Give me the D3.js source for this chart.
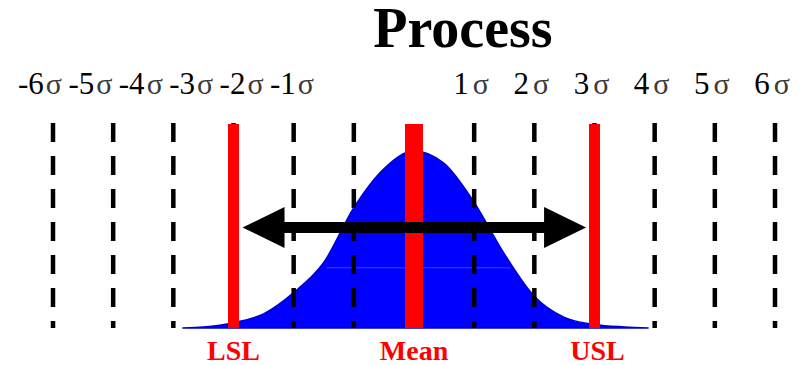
<!DOCTYPE html>
<html>
<head>
<meta charset="utf-8">
<script src="https://cdn.jsdelivr.net/npm/d3@7"></script>
<style>
  html, body { margin: 0; padding: 0; background: #fff; }
  svg { display: block; }
  text { font-family: "Liberation Serif", "Times New Roman", serif; }
</style>
</head>
<body>
<div id="chart"></div>
<script>
// Sigma positions and their labels
const sigmaTicks = [-6, -5, -4, -3, -2, -1, 1, 2, 3, 4, 5, 6];
const tickNumbers = ["-6", "-5", "-4", "-3", "-2", "-1", "1", "2", "3", "4", "5", "6"];

// Spec limits and mean
const limitSigma = [-3, 0, 3];
const limitNames = ["LSL", "Mean", "USL"];

// Process curve (height as % of the peak)
const curveSigma   = [-3.85, -3.5, -3, -2.5, -2, -1.5, -1, -0.5, 0, 0.5, 1, 1.5, 2, 2.5, 3, 3.5, 3.9];
const curveDensity = [0, 0.6, 3, 8, 20, 37, 68, 90, 100, 93, 71, 42, 18, 6, 2, 0.6, 0];

// Spread arrow, in sigma
const arrowSpan = [-2.85, 2.86];

function render() {
    const width = 800, height = 365;
    const top = 123, base = 328;

    const svg = d3.select("#chart")
        .append("svg")
        .attr("width", width)
        .attr("height", height);

    svg.append("rect")
        .attr("width", width)
        .attr("height", height)
        .attr("fill", "#fff");

    // Scales
    const x = d3.scaleLinear().domain([-6, 6]).range([53, 775]);
    const y = d3.scaleLinear().domain([0, 100]).range([base, 151]);
    // left labels are squeezed together in the original
    const xLeftLabel = d3.scaleLinear().domain([-6, -1]).range([40, 292]);

    // Title
    svg.append("text")
        .attr("x", 463)
        .attr("y", 47)
        .attr("text-anchor", "middle")
        .style("font-size", "56px")
        .style("font-weight", "bold")
        .text("Process");

    // Sigma labels
    const labels = svg.append("g").selectAll("text")
        .data(sigmaTicks)
        .join("text")
        .attr("x", (d, i) => d < 0 ? xLeftLabel(d) : x(d) - 3)
        .attr("y", 94)
        .attr("text-anchor", "middle")
        .style("font-size", "31px");
    labels.append("tspan")
        .attr("fill", "#000")
        .text((d, i) => tickNumbers[i]);
    labels.append("tspan")
        .attr("dx", d => d < 0 ? 2 : 4)
        .attr("fill", "#3a3a3a")
        .style("font-size", "30px")
        .text("σ");

    // Process curve
    const area = d3.area()
        .x(d => x(d[0]))
        .y0(base)
        .y1(d => y(d[1]))
        .curve(d3.curveMonotoneX);
    const pts = curveSigma.map((s, i) => [s, curveDensity[i]]);
    svg.append("path")
        .datum(pts)
        .attr("d", area)
        .attr("fill", "#0000ff")
        .attr("stroke", "#0000cc")
        .attr("stroke-width", 1.5);

    // faint scan line inside the curve
    svg.append("line")
        .attr("x1", x(-1.45)).attr("x2", x(1.6))
        .attr("y1", y(34)).attr("y2", y(34))
        .attr("stroke", "#5577ff")
        .attr("stroke-opacity", 0.6)
        .attr("stroke-width", 1);

    // Dashed sigma lines
    svg.append("g").selectAll("line")
        .data(sigmaTicks)
        .join("line")
        .attr("x1", d => x(d)).attr("x2", d => x(d))
        .attr("y1", top).attr("y2", base)
        .attr("stroke", "#000")
        .attr("stroke-width", 4.5)
        .attr("stroke-dasharray", "19,14");

    // Red limit lines
    svg.append("g").selectAll("line")
        .data(limitSigma)
        .join("line")
        .attr("x1", d => x(d)).attr("x2", d => x(d))
        .attr("y1", top + 1).attr("y2", base)
        .attr("stroke", "#ff0000")
        .attr("stroke-width", d => d === 0 ? 18 : 11);

    // Double arrow
    const ay = 227.5, shaft = 5.5, head = 42, headH = 20.5;
    const xa = x(arrowSpan[0]), xb = x(arrowSpan[1]);
    const p = d3.path();
    p.moveTo(xa, ay);
    p.lineTo(xa + head, ay - headH);
    p.lineTo(xa + head, ay - shaft);
    p.lineTo(xb - head, ay - shaft);
    p.lineTo(xb - head, ay - headH);
    p.lineTo(xb, ay);
    p.lineTo(xb - head, ay + headH);
    p.lineTo(xb - head, ay + shaft);
    p.lineTo(xa + head, ay + shaft);
    p.lineTo(xa + head, ay + headH);
    p.closePath();
    svg.append("path")
        .attr("d", p.toString())
        .attr("fill", "#000");

    // Limit labels
    svg.append("g").selectAll("text")
        .data(limitSigma)
        .join("text")
        .attr("x", (d, i) => x(d) + (i === 2 ? 3 : 0))
        .attr("y", 360)
        .attr("text-anchor", "middle")
        .attr("fill", "#ff0000")
        .style("font-size", "28px")
        .style("font-weight", "bold")
        .text((d, i) => limitNames[i]);
}

render();
</script>
</body>
</html>
